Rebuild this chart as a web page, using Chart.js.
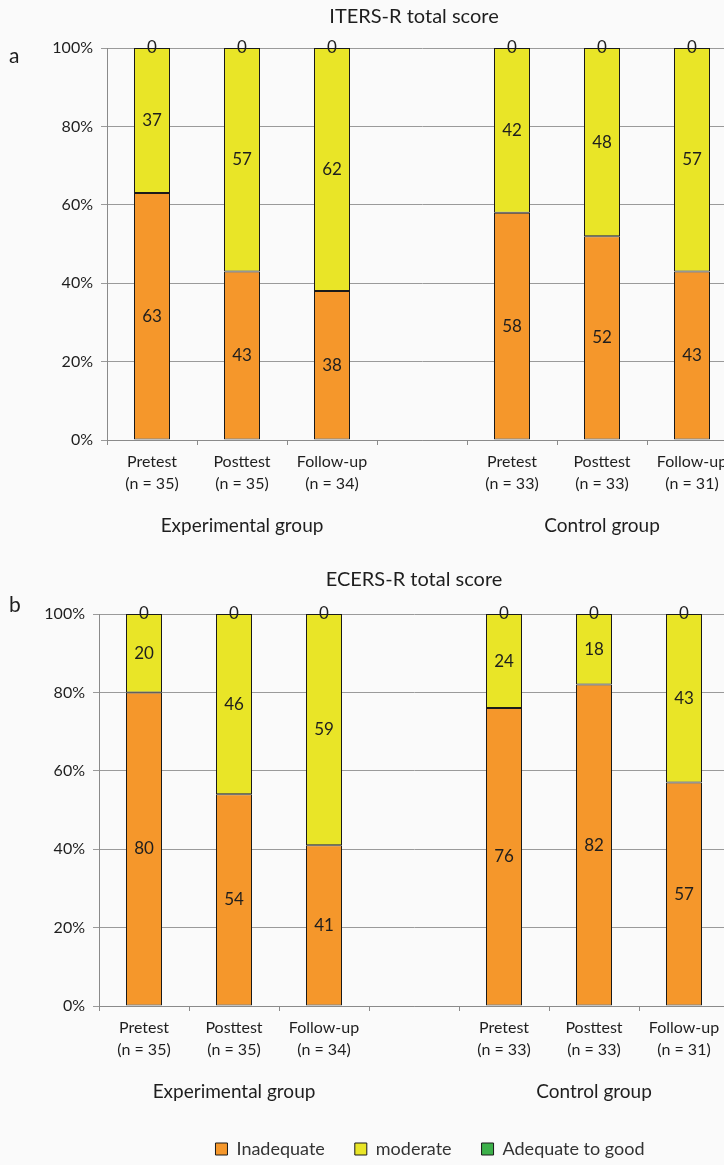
<!DOCTYPE html>
<html>
<head>
<meta charset="utf-8">
<script src="https://cdn.jsdelivr.net/npm/chart.js@4.4.0/dist/chart.umd.min.js"></script>
<style>
  html, body { margin: 0; padding: 0; background: #fafafa; overflow: hidden; width: 724px; height: 1165px; }
  .panel { position: absolute; left: 0; }
  #wrapA { top: 0; }
  #wrapB { top: 565px; }
</style>
</head>
<body>
<div id="wrapA" class="panel"><canvas id="chartA" width="760" height="560"></canvas></div>
<div id="wrapB" class="panel"><canvas id="chartB" width="760" height="603"></canvas></div>
<script>
const categories = [
  ['Pretest', '(n = 35)'], ['Posttest', '(n = 35)'], ['Follow-up', '(n = 34)'],
  '',
  ['Pretest', '(n = 33)'], ['Posttest', '(n = 33)'], ['Follow-up', '(n = 31)']
];
const groupLabels = ['Experimental group', 'Control group'];
const seriesNames = ['Inadequate', 'moderate', 'Adequate to good'];

const itersInadequate = [63, 43, 38, null, 58, 52, 43];
const itersModerate = [37, 57, 62, null, 42, 48, 57];
const itersAdequate = [0, 0, 0, null, 0, 0, 0];

const ecersInadequate = [80, 54, 41, null, 76, 82, 57];
const ecersModerate = [20, 46, 59, null, 24, 18, 43];
const ecersAdequate = [0, 0, 0, null, 0, 0, 0];

const COLORS = ['#f5972b', '#e9e527', '#3cb04a'];
const FONT = 'Lato, "Open Sans", sans-serif';
const TEXT = '#1e1e1e';

// value labels in the middle of every segment (zeros sit on the top edge)
const valueLabels = {
  id: 'valueLabels',
  afterDatasetsDraw(chart) {
    const ctx = chart.ctx;
    ctx.save();
    ctx.font = '17px ' + FONT;
    ctx.fillStyle = TEXT;
    ctx.textAlign = 'center';
    ctx.textBaseline = 'middle';
    chart.data.datasets.forEach((ds, i) => {
      const meta = chart.getDatasetMeta(i);
      meta.data.forEach((bar, j) => {
        const v = ds.data[j];
        if (v === null || v === undefined) return;
        const y = v === 0 ? bar.y : (bar.y + bar.base) / 2;
        ctx.fillText(String(v), bar.x, y);
      });
    });
    ctx.restore();
  }
};

// panel letter, title and the group names under the axis
const panelText = {
  id: 'panelText',
  afterLayout(chart, args, opts) {
    // legend sits a bit right of the plot centre in the original
    if (chart.legend && opts.legendShift) {
      chart.legend.left += opts.legendShift;
      chart.legend.right += opts.legendShift;
    }
  },
  afterDraw(chart, args, opts) {
    const ctx = chart.ctx;
    const x = chart.scales.x;
    ctx.save();
    ctx.fillStyle = TEXT;
    ctx.textBaseline = 'middle';
    ctx.textAlign = 'left';
    ctx.font = '21px ' + FONT;
    ctx.fillText(opts.letter, 9, opts.letterY);
    ctx.textAlign = 'center';
    ctx.font = '20px ' + FONT;
    ctx.fillText(opts.title, 414, opts.titleY);
    ctx.font = '19px ' + FONT;
    ctx.fillText(groupLabels[0], x.getPixelForValue(1), opts.groupY);
    ctx.fillText(groupLabels[1], x.getPixelForValue(5), opts.groupY);
    ctx.restore();
  }
};

function makeChart(id, inadequate, moderate, adequate, cfg) {
  const data = [inadequate, moderate, adequate];
  return new Chart(document.getElementById(id), {
    type: 'bar',
    data: {
      labels: categories,
      datasets: data.map((d, i) => ({
        label: seriesNames[i],
        data: d,
        backgroundColor: COLORS[i],
        borderColor: '#1a1a1a',
        borderWidth: 1,
        borderSkipped: false,
        categoryPercentage: 1,
        barPercentage: 0.4
      }))
    },
    options: {
      responsive: false,
      animation: false,
      layout: { padding: { top: cfg.top, right: cfg.right, bottom: 0, left: 0 } },
      scales: {
        x: {
          stacked: true,
          afterFit: s => { s.height = cfg.axisBottom; },
          grid: { drawOnChartArea: false, tickLength: 5, color: '#8a8a8a' },
          border: { color: '#8a8a8a' },
          ticks: { font: { family: FONT, size: 16, lineHeight: 1.35 }, color: TEXT, padding: 6, autoSkip: false, maxRotation: 0 }
        },
        y: {
          stacked: true,
          min: 0,
          max: 100,
          afterFit: s => { s.width = cfg.axisLeft; },
          grid: { color: '#9a9a9a', tickLength: 6 },
          border: { color: '#8a8a8a' },
          ticks: { stepSize: 20, callback: v => v + '%', font: { family: FONT, size: 16 }, color: TEXT, padding: 8 }
        }
      },
      plugins: {
        legend: {
          display: cfg.legend,
          position: 'bottom',
          fullSize: false,
          labels: { boxWidth: 12, boxHeight: 12, padding: 30, color: '#333', font: { family: FONT, size: 18 } }
        },
        tooltip: { enabled: false },
        panelText: {
          letter: cfg.letter, letterY: cfg.letterY, title: cfg.title, titleY: cfg.titleY,
          groupY: cfg.groupY, legendShift: cfg.legendShift
        }
      }
    },
    plugins: [valueLabels, panelText]
  });
}

makeChart('chartA', itersInadequate, itersModerate, itersAdequate, {
  top: 48, right: 23, axisLeft: 107, axisBottom: 120, legend: false,
  letter: 'a', letterY: 56, title: 'ITERS-R total score', titleY: 17, groupY: 526, legendShift: 0
});

makeChart('chartB', ecersInadequate, ecersModerate, ecersAdequate, {
  top: 49, right: 31, axisLeft: 99, axisBottom: 104, legend: true,
  letter: 'b', letterY: 40, title: 'ECERS-R total score', titleY: 15, groupY: 527, legendShift: 16
});
</script>
</body>
</html>
